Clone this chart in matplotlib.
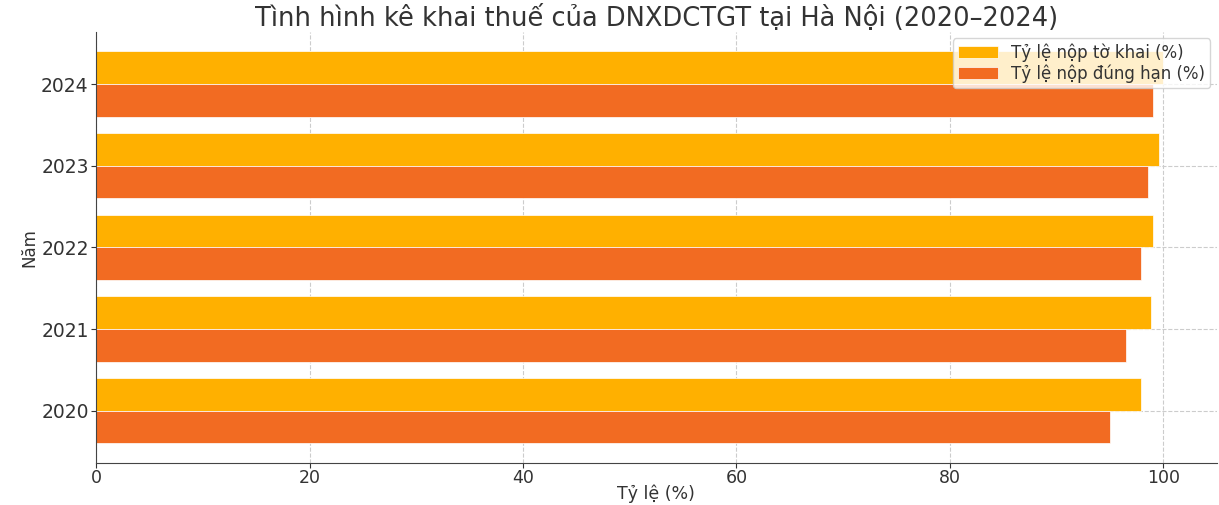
import numpy as np
import matplotlib
matplotlib.use("Agg")
import matplotlib.pyplot as plt

years = ["2020", "2021", "2022", "2023", "2024"]
nop_to_khai = [97.9, 98.9, 99.0, 99.6, 100.0]
nop_dung_han = [95.0, 96.5, 97.9, 98.6, 99.0]

plt.rcParams['font.family'] = ['DejaVu Sans']
text_color = '#333333'

fig, ax = plt.subplots(figsize=(12.19, 5.05), dpi=100)
fig.subplots_adjust(left=0.079, right=0.998, bottom=0.083, top=0.937)

y = np.arange(len(years))
h = 0.4
ax.barh(y + h / 2, nop_to_khai, height=h, color='#FFB000', edgecolor='white',
        linewidth=0.5, label='Tỷ lệ nộp tờ khai (%)', zorder=2)
ax.barh(y - h / 2, nop_dung_han, height=h, color='#F26B22', edgecolor='white',
        linewidth=0.5, label='Tỷ lệ nộp đúng hạn (%)', zorder=2)

ax.set_yticks(y)
ax.set_yticklabels(years)
ax.set_title('Tình hình kê khai thuế của DNXDCTGT tại Hà Nội (2020–2024)',
             fontsize=18.5, color=text_color, pad=4)
ax.set_xlabel('Tỷ lệ (%)', fontsize=12.5, color=text_color)
ax.xaxis.set_label_coords(0.5, -0.05)
ax.set_ylabel('Năm', fontsize=12, color=text_color, labelpad=2)
ax.tick_params(axis='y', labelsize=13.5, colors=text_color, pad=2)
ax.tick_params(axis='x', labelsize=12.5, colors=text_color, pad=1)

ax.grid(True, linestyle='--', color='#cccccc', linewidth=0.8, zorder=0)
ax.set_axisbelow(True)
for s in ['top', 'right']:
    ax.spines[s].set_visible(False)
for s in ['left', 'bottom']:
    ax.spines[s].set_color('#444444')

leg = ax.legend(loc='upper right', fontsize=12, framealpha=0.8,
                labelspacing=0.15, borderpad=0.3, handlelength=2.4,
                borderaxespad=0.4)
for t in leg.get_texts():
    t.set_color(text_color)

fig.savefig('out.png')
